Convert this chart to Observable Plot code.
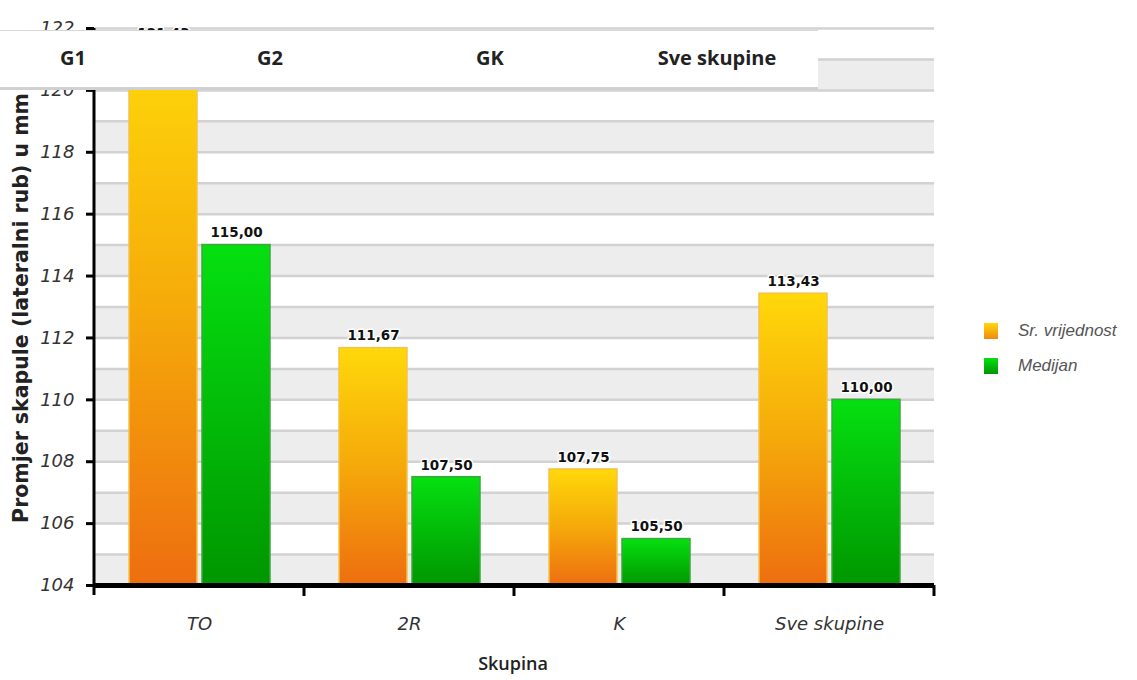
<!DOCTYPE html>
<html>
<head>
<meta charset="utf-8">
<script src="https://cdn.jsdelivr.net/npm/d3@7"></script>
<script src="https://cdn.jsdelivr.net/npm/@observablehq/plot@0.6"></script>
<style>
  html, body { margin: 0; padding: 0; background: #fff; }
  #wrap { position: relative; width: 1137px; height: 680px; overflow: hidden; }
  #chart { position: absolute; left: 0; top: 0; }
  .header { position: absolute; left: 0; top: 30px; width: 818px; height: 56px; background: #fff;
            border-top: 1.5px solid #d8d8d8; border-bottom: 3px solid #d0d0d0; z-index: 2; }
  .header span { position: absolute; top: 13px; transform: translateX(-50%); font: bold 20px "Open Sans", sans-serif; color: #222; white-space: nowrap; }
  .ytitle { position: absolute; left: 21px; top: 308px; transform: translate(-50%, -50%) rotate(-90deg);
            font: bold 20.5px "DejaVu Sans", sans-serif; color: #222; white-space: nowrap; }
  .xtitle { position: absolute; left: 513px; top: 651px; transform: translateX(-50%);
            font: 600 18px "Open Sans", sans-serif; color: #222; }
  .legend { position: absolute; left: 984px; top: 313px; font: italic 17px "Liberation Sans", sans-serif; color: #555; }
  .legend div { display: flex; align-items: center; height: 35px; }
  .legend i { display: inline-block; width: 14px; height: 16px; margin-right: 20px; }
</style>
</head>
<body>
<div id="wrap">
  <div id="chart"></div>
</div>
<script>
// ---- data ----
const categories = ["TO", "2R", "K", "Sve skupine"];
const seriesNames = ["Sr. vrijednost", "Medijan"];
const meanValues = [121.43, 111.67, 107.75, 113.43];
const medianValues = [115.00, 107.50, 105.50, 110.00];
const yBase = 104;
const yDomain = [104, 122];
const yTicks = [104, 106, 108, 110, 112, 114, 116, 118, 120, 122];
const gridValues = [104, 105, 106, 107, 108, 109, 110, 111, 112, 113, 114, 115, 116, 117, 118, 119, 120, 121, 122];
const bandStarts = [104, 106, 108, 110, 112, 114, 116, 118, 120];
const headerLabels = ["G1", "G2", "GK", "Sve skupine"];
const yTitle = "Promjer skapule (lateralni rub) u mm";
const xTitle = "Skupina";

// ---- build rows ----
const meanRows = categories.map((c, i) => ({cat: c, series: seriesNames[0], value: meanValues[i]}));
const medRows = categories.map((c, i) => ({cat: c, series: seriesNames[1], value: medianValues[i]}));
const fmt = v => d3.format(".2f")(v).replace(".", ",");

const labelStyle = {
  fontFamily: "DejaVu Sans", fontWeight: "bold", fontSize: 13.5, fill: "#111",
  stroke: "white", strokeWidth: 3, dy: -12, lineAnchor: "middle"
};

const plot = Plot.plot({
  width: 1137,
  height: 680,
  marginLeft: 93,
  marginRight: 202,
  marginTop: 28,
  marginBottom: 95,
  style: {fontFamily: "DejaVu Sans", background: "white", overflow: "visible"},
  fx: {domain: categories, paddingInner: 0, paddingOuter: 0},
  x: {domain: seriesNames, paddingInner: 0.07, paddingOuter: 0.47, axis: null},
  y: {domain: yDomain, axis: null},
  marks: [
    Plot.rect(bandStarts, {y1: d => d, y2: d => d + 1, fill: "#ededed"}),
    Plot.ruleY(gridValues, {stroke: "#d2d2d2", strokeWidth: 2.5}),
    Plot.barY(meanRows, {fx: "cat", x: "series", y1: yBase, y2: "value", fill: "url(#gSr)", stroke: "#f3c24a", strokeWidth: 1.5}),
    Plot.barY(medRows, {fx: "cat", x: "series", y1: yBase, y2: "value", fill: "url(#gMed)", stroke: "#3aa83a", strokeWidth: 1.5}),
    Plot.text(meanRows, {fx: "cat", x: "series", y: "value", text: d => fmt(d.value), ...labelStyle}),
    Plot.text(medRows, {fx: "cat", x: "series", y: "value", text: d => fmt(d.value), ...labelStyle}),
    Plot.ruleY([yBase], {stroke: "#000", strokeWidth: 5}),
    Plot.axisY({ticks: yTicks, tickSize: 8, tickPadding: 12, fontSize: 18, fontStyle: "italic",
                fontFamily: "DejaVu Sans", color: "#333", strokeWidth: 3, label: null, tickFormat: d => String(d)}),
    Plot.axisFx({anchor: "bottom", tickSize: 0, tickPadding: 32, fontSize: 18, fontStyle: "italic",
                 fontFamily: "DejaVu Sans", color: "#333", label: null})
  ]
});

document.getElementById("chart").appendChild(plot);

// gradients
const svg = d3.select(plot);
const defs = svg.insert("defs", ":first-child");
const gSr = defs.append("linearGradient").attr("id", "gSr").attr("x1", 0).attr("y1", 0).attr("x2", 0).attr("y2", 1);
gSr.append("stop").attr("offset", "0%").attr("stop-color", "#ffd80a");
gSr.append("stop").attr("offset", "50%").attr("stop-color", "#f5a90a");
gSr.append("stop").attr("offset", "100%").attr("stop-color", "#ee6e10");
const gMed = defs.append("linearGradient").attr("id", "gMed").attr("x1", 0).attr("y1", 0).attr("x2", 0).attr("y2", 1);
gMed.append("stop").attr("offset", "0%").attr("stop-color", "#05e010");
gMed.append("stop").attr("offset", "100%").attr("stop-color", "#009600");

// axis tick marks in black, labels in grey
svg.selectAll("[aria-label='y-axis tick'] path, [aria-label='y-axis tick'] line").attr("stroke", "#000");

// y axis line and boundary ticks, computed from the plot's own scales
const fxs = plot.scale("fx");
const ys = plot.scale("y");
const y0 = ys.apply(yDomain[0]);
const yTop = ys.apply(yDomain[1]);
const bounds = categories.map(c => fxs.apply(c)).concat([fxs.apply(categories[categories.length - 1]) + fxs.bandwidth]);
const overlay = svg.append("g");
overlay.append("line").attr("x1", bounds[0]).attr("x2", bounds[0]).attr("y1", yTop).attr("y2", y0 + 10)
  .attr("stroke", "#000").attr("stroke-width", 3);
overlay.selectAll("line.bt").data(bounds.slice(1)).join("line")
  .attr("x1", d => d).attr("x2", d => d).attr("y1", y0).attr("y2", y0 + 11)
  .attr("stroke", "#000").attr("stroke-width", 3);

// header overlay, titles and legend
const wrap = document.getElementById("wrap");
const header = document.createElement("div");
header.className = "header";
const headerX = [73, 270, 490, 717];
headerLabels.forEach((t, i) => {
  const s = document.createElement("span");
  s.textContent = t;
  s.style.left = headerX[i] + "px";
  header.appendChild(s);
});
wrap.appendChild(header);

const yt = document.createElement("div");
yt.className = "ytitle"; yt.textContent = yTitle; wrap.appendChild(yt);
const xt = document.createElement("div");
xt.className = "xtitle"; xt.textContent = xTitle; wrap.appendChild(xt);

const legend = document.createElement("div");
legend.className = "legend";
const swatchBg = ["linear-gradient(#ffd80a, #ee8a10)", "linear-gradient(#05e010, #009600)"];
seriesNames.forEach((n, i) => {
  const row = document.createElement("div");
  const sw = document.createElement("i");
  sw.style.background = swatchBg[i];
  row.appendChild(sw);
  row.appendChild(document.createTextNode(n));
  legend.appendChild(row);
});
wrap.appendChild(legend);
</script>
</body>
</html>
